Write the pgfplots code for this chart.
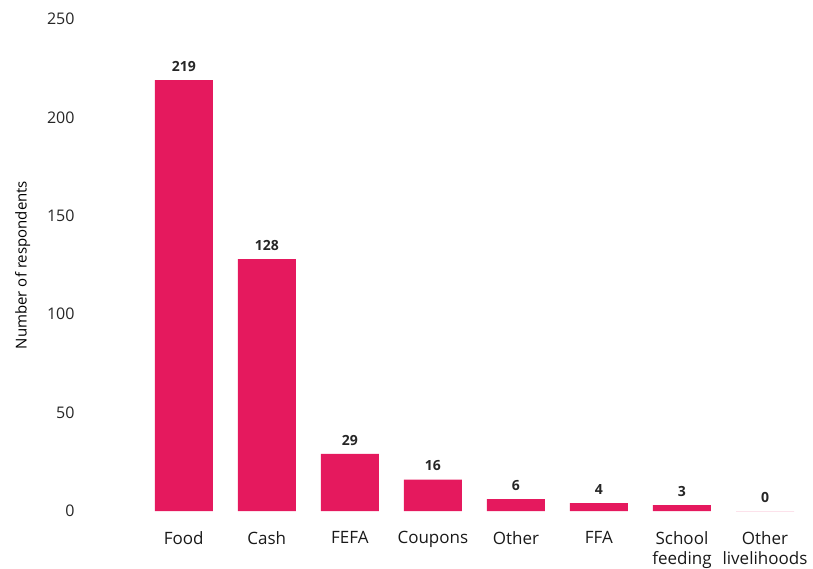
\documentclass[border=0pt]{standalone}
\usepackage{pgfplots}
\pgfplotsset{compat=1.18}
\usepackage{fontspec}
\setmainfont{Open Sans}
\definecolor{barpink}{HTML}{E5195E}
\begin{document}
\begin{tikzpicture}
\useasboundingbox (0,0) rectangle (813pt,568pt);
\begin{axis}[
  at={(80pt,57pt)}, anchor=south west,
  scale only axis,
  width=726.5pt, height=492pt,
  ybar, bar width=58pt,
  xmin=-1.25, xmax=7.5,
  ymin=0, ymax=250,
  ytick={0,50,100,150,200,250},
  xtick={0,1,2,3,4,5,6,7},
  xticklabels={Food,Cash,FEFA,Coupons,Other,FFA,School\\feeding,Other\\livelihoods},
  xticklabel style={align=center, font=\fontsize{17}{20}\selectfont, yshift=-17pt, text=black!90},
  yticklabel style={font=\fontsize{16}{18}\selectfont, xshift=-2pt, text=black!85},
  axis line style={draw=none},
  major tick length=0pt,
  ylabel={Number of respondents},
  ylabel style={font=\fontsize{15}{17}\selectfont, yshift=10pt},
  /pgf/number format/assume math mode=true,
  nodes near coords,
  every node near coord/.append style={font=\bfseries\fontsize{14}{16}\selectfont, black!85, yshift=5pt},
  clip=false,
]
\addplot[fill=barpink, draw=none] coordinates {
  (0,219) (1,128) (2,29) (3,16) (4,6) (5,4) (6,3) (7,0)
};
\end{axis}
\end{tikzpicture}
\end{document}
